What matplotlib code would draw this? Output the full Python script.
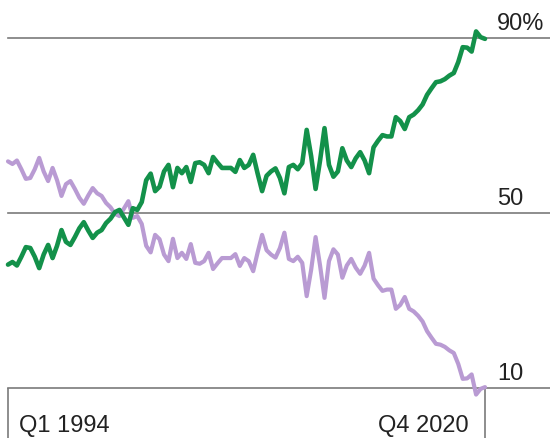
import matplotlib
matplotlib.use("Agg")
import matplotlib.pyplot as plt

green = [38.2, 38.8, 38.0, 40.0, 42.2, 42.0, 40.0, 37.4, 40.5, 42.7,
         39.7, 42.5, 46.1, 43.4, 42.7, 44.5, 46.5, 47.9, 46.0, 44.3,
         45.5, 46.1, 47.7, 48.7, 50.2, 50.7, 49.0, 47.3, 51.1, 50.7,
         52.5, 57.5, 59.0, 55.0, 56.0, 59.5, 61.0, 55.9, 60.3, 59.1,
         60.5, 57.1, 61.4, 61.6, 61.0, 59.1, 62.8, 61.5, 60.3, 60.3,
         60.3, 59.4, 62.1, 60.3, 61.0, 63.3, 59.0, 55.0, 58.5, 59.5,
         60.2, 58.0, 54.5, 60.5, 61.0, 60.0, 61.4, 69.0, 63.0, 55.5,
         62.0, 69.4, 61.0, 58.3, 59.5, 64.8, 62.0, 60.5, 62.5, 63.9,
         62.0, 59.1, 65.0, 66.5, 67.8, 67.5, 67.5, 71.9, 71.0, 69.2,
         71.9, 72.5, 73.5, 74.8, 77.0, 78.5, 79.9, 80.1, 80.6, 81.4,
         82.0, 84.5, 87.9, 87.8, 86.9, 91.5, 90.2, 89.8]

purple = [61.8, 61.2, 62.0, 60.0, 57.8, 58.0, 60.0, 62.6, 59.5, 57.3,
          60.3, 57.5, 53.9, 56.6, 57.3, 55.5, 53.5, 52.1, 54.0, 55.7,
          54.5, 53.9, 52.3, 51.3, 49.8, 49.3, 51.0, 52.7, 48.9, 49.3,
          47.5, 42.5, 41.0, 45.0, 44.0, 40.5, 39.0, 44.1, 39.7, 40.9,
          39.5, 42.9, 38.6, 38.4, 39.0, 40.9, 37.2, 38.5, 39.7, 39.7,
          39.7, 40.6, 37.9, 39.7, 39.0, 36.7, 41.0, 45.0, 41.5, 40.5,
          39.8, 42.0, 45.5, 39.5, 39.0, 40.0, 38.6, 31.0, 37.0, 44.5,
          38.0, 30.6, 39.0, 41.7, 40.5, 35.2, 38.0, 39.5, 37.5, 36.1,
          38.0, 40.9, 35.0, 33.5, 32.2, 32.5, 32.5, 28.1, 29.0, 30.8,
          28.1, 27.5, 26.5, 25.2, 23.0, 21.5, 20.1, 19.9, 19.4, 18.6,
          18.0, 15.5, 12.1, 12.2, 13.1, 8.5, 9.8, 10.2]

grid_values = [90, 50, 10]
grid_labels = ["90%", "50", "10"]
x_labels = ["Q1 1994", "Q4 2020"]

n = len(green)
x = list(range(n))

W, H = 550, 438
fig = plt.figure(figsize=(W / 100, H / 100), dpi=100)
ax = fig.add_axes([0, 0, 1, 1])
ax.axis("off")

px_per_q = (485 - 8) / (n - 1)
px_per_unit = 175 / 40.0
x0 = -8 / px_per_q
x1 = (n - 1) + (W - 485) / px_per_q
ytop = 50 + 213 / px_per_unit
ybot = 50 - (H - 213) / px_per_unit
ax.set_xlim(x0, x1)
ax.set_ylim(ybot, ytop)

grid_color = "#7a7a7a"
for v in grid_values:
    ax.axhline(v, xmin=8 / W, xmax=1.0, color=grid_color, lw=1.2, zorder=1)

ax.vlines([x[0], x[-1]], ybot, grid_values[-1], color=grid_color, lw=1.2, zorder=1)

ax.plot(x, purple, color="#b99bd3", lw=3.0, solid_joinstyle="round",
        solid_capstyle="round", zorder=3)
ax.plot(x, green, color="#13914a", lw=3.3, solid_joinstyle="round",
        solid_capstyle="round", zorder=4)

font = dict(family=["Liberation Sans", "DejaVu Sans"], fontsize=17, color="#222222")
lab_x = (497 - 8) / px_per_q
for v, lab in zip(grid_values, grid_labels):
    ax.text(lab_x, v + 8 / px_per_unit, lab, ha="left", va="baseline", **font)

base_y = 50 - (432 - 213) / px_per_unit
ax.text((19 - 8) / px_per_q, base_y, x_labels[0], ha="left", va="baseline", **font)
ax.text((469 - 8) / px_per_q, base_y, x_labels[1], ha="right", va="baseline", **font)

fig.savefig("out.png", dpi=100, facecolor="white")
